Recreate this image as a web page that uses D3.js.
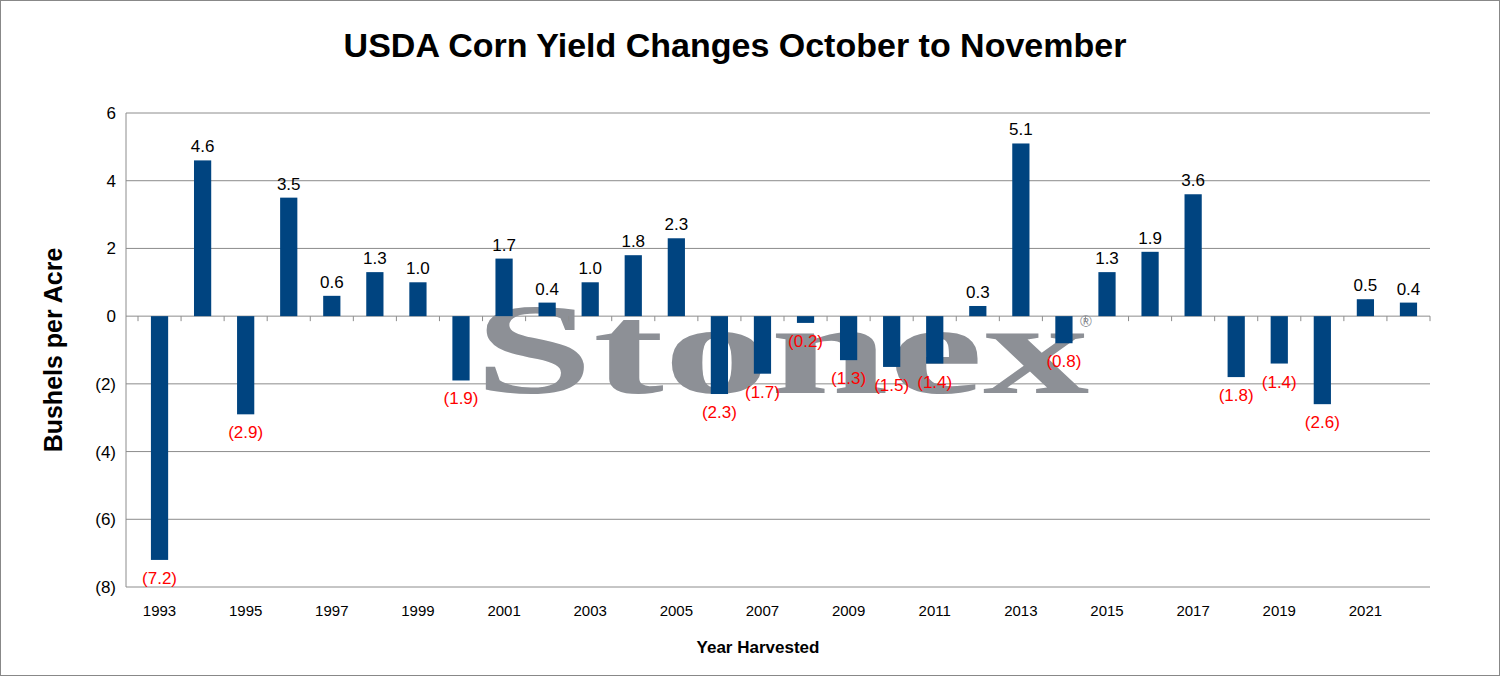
<!DOCTYPE html>
<html>
<head>
<script src="https://d3js.org/d3.v7.min.js"></script>
<style>
  body { margin: 0; background: #fff; }
  text { font-family: Arial, "Liberation Sans", sans-serif; }
</style>
</head>
<body>
<svg width="1501" height="677"></svg>
<script>
var years = d3.range(1993, 2023);
var changes = [-7.2, 4.6, -2.9, 3.5, 0.6, 1.3, 1.0, -1.9, 1.7, 0.4, 1.0, 1.8, 2.3, -2.3, -1.7,
  -0.2, -1.3, -1.5, -1.4, 0.3, 5.1, -0.8, 1.3, 1.9, 3.6, -1.8, -1.4, -2.6, 0.5, 0.4];
var yTicks = [6, 4, 2, 0, -2, -4, -6, -8];

var svg = d3.select("svg"),
    plotLeft = 126, plotRight = 1430, plotTop = 113, plotBottom = 587;

svg.append("rect").attr("x", 0.5).attr("y", 0.5).attr("width", 1499).attr("height", 675)
  .attr("fill", "#fff").attr("stroke", "#888");

var x = d3.scaleBand().domain(years).range([138, plotRight]).paddingInner(0.6).paddingOuter(0.3);
var y = d3.scaleLinear().domain([-8, 6]).range([plotBottom, plotTop]);

// grid
svg.selectAll(".grid").data(yTicks).enter().append("line")
  .attr("x1", plotLeft).attr("x2", plotRight)
  .attr("y1", function(d) { return y(d); }).attr("y2", function(d) { return y(d); })
  .attr("stroke", "#8c8c8c").attr("stroke-width", 1);

svg.append("line").attr("x1", plotLeft).attr("x2", plotLeft).attr("y1", plotTop).attr("y2", plotBottom)
  .attr("stroke", "#8c8c8c");

// y labels
svg.selectAll(".yl").data(yTicks).enter().append("text")
  .attr("x", plotLeft - 10).attr("y", function(d) { return y(d) + 6; })
  .attr("text-anchor", "end").attr("font-size", 17)
  .text(function(d) { return d < 0 ? "(" + (-d) + ")" : d; });

// watermark
svg.append("text").attr("x", 782).attr("y", 393).attr("text-anchor", "middle")
  .style("font-family", "'Liberation Serif', 'DejaVu Serif', serif").attr("font-size", 130)
  .attr("font-weight", "bold")
  .attr("fill", "#8d9096").attr("textLength", 615).attr("lengthAdjust", "spacingAndGlyphs")
  .text("Stonex");
svg.append("text").attr("x", 1080).attr("y", 327).attr("font-size", 16)
  .attr("fill", "#8d9096").text("®");

// bars
svg.selectAll(".bar").data(changes).enter().append("rect")
  .attr("x", function(d, i) { return x(years[i]); })
  .attr("width", x.bandwidth())
  .attr("y", function(d) { return y(Math.max(0, d)); })
  .attr("height", function(d) { return Math.abs(y(d) - y(0)); })
  .attr("fill", "#004480");

// zero axis ticks
svg.selectAll(".tk").data(d3.range(years.length + 1)).enter().append("line")
  .attr("x1", function(i) { return 138 + i * x.step(); })
  .attr("x2", function(i) { return 138 + i * x.step(); })
  .attr("y1", y(0)).attr("y2", y(0) + 5).attr("stroke", "#8c8c8c");

// value labels
svg.selectAll(".vl").data(changes).enter().append("text")
  .attr("x", function(d, i) { return x(years[i]) + x.bandwidth() / 2; })
  .attr("y", function(d) { return d >= 0 ? y(d) - 8 : y(d) + 24; })
  .attr("text-anchor", "middle").attr("font-size", 17)
  .attr("fill", function(d) { return d >= 0 ? "#000" : "#f00"; })
  .text(function(d) { return d >= 0 ? d.toFixed(1) : "(" + (-d).toFixed(1) + ")"; });

// x labels
svg.selectAll(".xl").data(years.filter(function(d, i) { return i % 2 === 0; })).enter().append("text")
  .attr("x", function(d) { return x(d) + x.bandwidth() / 2; })
  .attr("y", 616).attr("text-anchor", "middle").attr("font-size", 15)
  .text(function(d) { return d; });

svg.append("text").attr("x", 758).attr("y", 653).attr("text-anchor", "middle")
  .attr("font-size", 17).attr("font-weight", "bold").text("Year Harvested");

svg.append("text").attr("transform", "translate(62,350) rotate(-90)").attr("text-anchor", "middle")
  .attr("font-size", 25).attr("font-weight", "bold").text("Bushels per Acre");

svg.append("text").attr("x", 735).attr("y", 57).attr("text-anchor", "middle")
  .attr("font-size", 34).attr("font-weight", "bold").text("USDA Corn Yield Changes October to November");
</script>
</body>
</html>
